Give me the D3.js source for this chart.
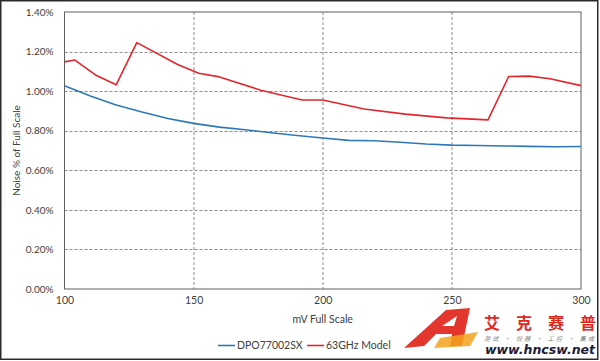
<!DOCTYPE html>
<html>
<head>
<meta charset="utf-8">
<script src="https://cdn.jsdelivr.net/npm/d3@7"></script>
<style>
  body { margin: 0; background: #fff; }
  svg { display: block; font-family: Lato, "Open Sans", sans-serif; }
</style>
</head>
<body>
<svg class="noise-chart" width="600" height="361"></svg>
<script>
// series data (mV full scale -> noise % of full scale)
const seriesNames = ['DPO77002SX', '63GHz Model'];
const dpoMv = [100, 110, 120, 130, 140, 150, 160, 170, 180, 190, 200, 210, 220, 230, 240, 250, 260, 270, 280, 290, 300];
const dpoNoise = [1.027, 0.975, 0.930, 0.895, 0.862, 0.837, 0.818, 0.805, 0.790, 0.776, 0.763, 0.751, 0.749, 0.742, 0.733, 0.727, 0.725, 0.723, 0.721, 0.719, 0.720];
const modelMv = [100, 104, 112, 120, 128, 144, 152, 160, 176, 192, 200, 216, 232, 248, 264, 272, 280, 288, 300];
const modelNoise = [1.148, 1.157, 1.082, 1.032, 1.245, 1.133, 1.090, 1.072, 1.005, 0.955, 0.955, 0.910, 0.884, 0.865, 0.855, 1.074, 1.076, 1.063, 1.028];
const xTicks = [100, 150, 200, 250, 300];
const yTicks = [0, 0.2, 0.4, 0.6, 0.8, 1.0, 1.2, 1.4];

const colors = ['#2e78b8', '#e3262d'];

// layout
const margin = { top: 12, right: 19, bottom: 72, left: 64.5 };
const svg = d3.select('.noise-chart');
const width = 600;
const height = 361;
const w = width - margin.left - margin.right;
const h = height - margin.top - margin.bottom;

// outer frame
svg.append('rect')
   .attr('x', 0.75).attr('y', 0.75)
   .attr('width', 597).attr('height', 358.5)
   .attr('fill', '#fff')
   .attr('stroke', '#2b2b2b')
   .attr('stroke-width', 1.5);

const g = svg.append('g').attr('transform', `translate(${margin.left},${margin.top})`);

const x = d3.scaleLinear().domain([100, 300]).range([0, w]);
const y = d3.scaleLinear().domain([0, 1.4]).range([h, 0]);

// gridlines
g.append('g')
 .selectAll('line')
 .data(yTicks.slice(1, -1))
 .enter().append('line')
   .attr('x1', 0).attr('x2', w)
   .attr('y1', d => Math.round(y(d)) + 0.5)
   .attr('y2', d => Math.round(y(d)) + 0.5)
   .attr('stroke', '#8c8c8c')
   .attr('stroke-dasharray', '3,2');

g.append('g')
 .selectAll('line')
 .data(xTicks.slice(1, -1))
 .enter().append('line')
   .attr('x1', d => Math.round(x(d)) + 0.5)
   .attr('x2', d => Math.round(x(d)) + 0.5)
   .attr('y1', 0).attr('y2', h)
   .attr('stroke', '#8c8c8c')
   .attr('stroke-dasharray', '3,2');

// plot border
g.append('rect')
 .attr('x', 0).attr('y', 0)
 .attr('width', w).attr('height', h)
 .attr('fill', 'none')
 .attr('stroke', '#606060')
 .attr('stroke-width', 1);

// axes
const yAxis = g.append('g')
  .call(d3.axisLeft(y).tickValues(yTicks).tickSize(0).tickPadding(11)
         .tickFormat(d => `${d.toFixed(2)}%`));
yAxis.select('.domain').remove();
yAxis.selectAll('text')
     .attr('font-size', 10)
     .attr('fill', '#404040')
     .attr('font-family', 'Lato, sans-serif');

const xAxis = g.append('g')
  .attr('transform', `translate(0,${h})`)
  .call(d3.axisBottom(x).tickValues(xTicks).tickSize(0).tickPadding(8));
xAxis.select('.domain').remove();
xAxis.selectAll('text')
     .attr('font-size', 10.5)
     .attr('fill', '#404040')
     .attr('font-family', 'Lato, sans-serif');

// axis titles
svg.append('text')
   .attr('transform', `translate(16,${margin.top + h / 2}) rotate(-90)`)
   .attr('text-anchor', 'middle')
   .attr('dy', '0.35em')
   .attr('font-size', 10)
   .attr('fill', '#404040')
   .text('Noise % of Full Scale');

svg.append('text')
   .attr('x', margin.left + w / 2)
   .attr('y', 323)
   .attr('text-anchor', 'middle')
   .attr('font-size', 10.5)
   .attr('fill', '#404040')
   .text('mV Full Scale');

// lines
const line = d3.line().x(d => x(d[0])).y(d => y(d[1]));
const series = [
  d3.zip(dpoMv, dpoNoise),
  d3.zip(modelMv, modelNoise),
];

g.append('g')
 .selectAll('path')
 .data(series)
 .enter().append('path')
   .attr('d', line)
   .attr('fill', 'none')
   .attr('stroke', (d, i) => colors[i])
   .attr('stroke-width', 1.6)
   .attr('stroke-linejoin', 'round');

// legend
const legendX = [218, 307];
const legend = svg.append('g')
  .selectAll('g')
  .data(seriesNames)
  .enter().append('g')
    .attr('transform', (d, i) => `translate(${legendX[i]},345.5)`);

legend.append('line')
      .attr('x1', 0).attr('x2', 17)
      .attr('stroke', (d, i) => colors[i])
      .attr('stroke-width', 1.6);

legend.append('text')
      .attr('x', 19)
      .attr('dy', '0.35em')
      .attr('font-size', 10.5)
      .attr('fill', '#404040')
      .text(d => d);

// watermark (logo shape + texts)
const mark = svg.append('g');
mark.append('path')
    .attr('d', 'M404,348 L446,310 L470,308 L462,346 L450,346 L452,334 L436,334 L424,346 Z M442,326 L454,326 L457,316 Z')
    .attr('fill', '#e1261c')
    .attr('fill-rule', 'evenodd')
    .attr('opacity', 0.92);
mark.append('path')
    .attr('d', 'M440,338 L478,332 L470,346 L434,348 Z')
    .attr('fill', '#f2a31d')
    .attr('opacity', 0.85);
mark.append('text')
    .attr('x', 484).attr('y', 328.5)
    .attr('font-size', 16)
    .attr('font-weight', 'bold')
    .attr('font-family', '"Noto Sans CJK SC", sans-serif')
    .attr('fill', '#e1261c')
    .attr('textLength', 112)
    .text('艾克赛普');
mark.append('text')
    .attr('x', 484).attr('y', 340.5)
    .attr('font-size', 6)
    .attr('font-style', 'italic')
    .attr('font-family', '"Noto Sans CJK SC", sans-serif')
    .attr('fill', '#7a7a7a')
    .attr('textLength', 110)
    .text('测试 · 仪器 · 工控 · 集成');
mark.append('text')
    .attr('x', 485).attr('y', 353.5)
    .attr('font-size', 12.5)
    .attr('font-weight', 'bold')
    .attr('font-style', 'italic')
    .attr('font-family', '"DejaVu Sans", sans-serif')
    .attr('fill', '#1c1c3a')
    .attr('textLength', 110)
    .text('www.hncsw.net');
</script>
</body>
</html>
